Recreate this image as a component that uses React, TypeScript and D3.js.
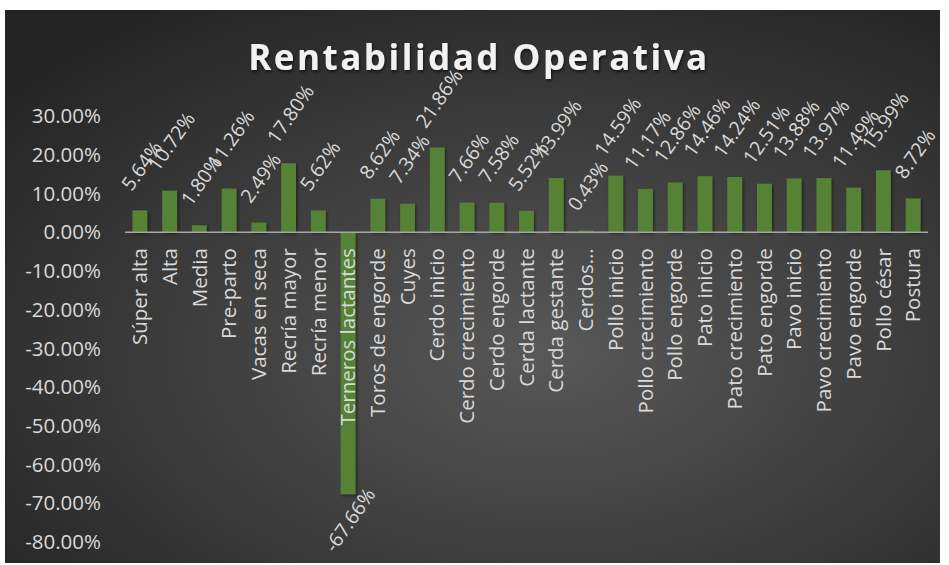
import React from "react";
import * as d3 from "d3";

const categories = [
  "Súper alta", "Alta", "Media", "Pre-parto", "Vacas en seca", "Recría mayor", "Recría menor",
  "Terneros lactantes", "Toros de engorde", "Cuyes", "Cerdo inicio", "Cerdo crecimiento",
  "Cerdo engorde", "Cerda lactante", "Cerda gestante", "Cerdos…", "Pollo inicio",
  "Pollo crecimiento", "Pollo engorde", "Pato inicio", "Pato crecimiento", "Pato engorde",
  "Pavo inicio", "Pavo crecimiento", "Pavo engorde", "Pollo césar", "Postura",
];
const values = [
  5.64, 10.72, 1.8, 11.26, 2.49, 17.8, 5.62, -67.66, 8.62, 7.34, 21.86, 7.66, 7.58, 5.52,
  13.99, 0.43, 14.59, 11.17, 12.86, 14.46, 14.24, 12.51, 13.88, 13.97, 11.49, 15.99, 8.72,
];
const yTicks = [30, 20, 10, 0, -10, -20, -30, -40, -50, -60, -70, -80];

const W = 949;
const H = 565;
const FONT = "'Open Sans', sans-serif";

const charW = (s: string) =>
  s.split("").reduce((a, ch) => a + (ch === "." ? 0.27 : ch === "%" ? 0.84 : ch === "-" ? 0.32 : 0.572), 0);

export default function App() {
  const x = d3.scaleBand<string>().domain(categories).range([125, 928]).paddingInner(0.5).paddingOuter(0.25);
  const y = d3.scaleLinear().domain([-80, 30]).range([542, 116]);
  const bw = x.bandwidth();
  const fmt = (v: number) => v.toFixed(2) + "%";
  const labelFs = 19.5;
  const ang = 55;
  const sa = Math.sin((ang * Math.PI) / 180);
  const ca = Math.cos((ang * Math.PI) / 180);

  return (
    <svg width={W} height={H} style={{ position: "absolute", left: 0, top: 0, background: "#fff" }}>
      <defs>
        <radialGradient id="bg" cx="58%" cy="62%" r="75%" fx="58%" fy="62%">
          <stop offset="0%" stopColor="#585858" />
          <stop offset="100%" stopColor="#242424" />
        </radialGradient>
        <filter id="sh" x="-20%" y="-20%" width="140%" height="140%">
          <feDropShadow dx="1.5" dy="1.5" stdDeviation="1.5" floodColor="#000" floodOpacity="0.45" />
        </filter>
        <filter id="tsh" x="-10%" y="-30%" width="120%" height="160%">
          <feDropShadow dx="1" dy="2" stdDeviation="1.5" floodColor="#000" floodOpacity="0.6" />
        </filter>
      </defs>
      <rect x={5} y={10} width={935} height={553} fill="url(#bg)" />
      <text
        x={479}
        y={70}
        textAnchor="middle"
        fontFamily={FONT}
        fontWeight="bold"
        fontSize={35}
        letterSpacing={2.5}
        fill="#f2f2f2"
        filter="url(#tsh)"
      >
        Rentabilidad Operativa
      </text>
      {yTicks.map((t) => (
        <text
          key={t}
          x={101}
          y={y(t)}
          dy="0.35em"
          textAnchor="end"
          fontFamily={FONT}
          fontSize={20.5}
          fill="#d9d9d9"
        >
          {t.toFixed(2) + "%"}
        </text>
      ))}
      {categories.map((c, i) => {
        const v = values[i];
        return (
          <rect
            key={c}
            x={x(c)!}
            y={y(Math.max(0, v))}
            width={bw}
            height={Math.abs(y(v) - y(0))}
            fill="#548235"
            filter="url(#sh)"
          />
        );
      })}
      <line x1={125} x2={928} y1={y(0)} y2={y(0)} stroke="#a6a6a6" strokeWidth={1.5} />
      {categories.map((c) => (
        <text
          key={c}
          transform={`translate(${x(c)! + bw / 2},${y(0) + 16}) rotate(-90)`}
          dy="0.35em"
          textAnchor="end"
          fontFamily={FONT}
          fontSize={20.5}
          fill="#d9d9d9"
        >
          {c}
        </text>
      ))}
      {categories.map((c, i) => {
        const v = values[i];
        const txt = fmt(v);
        const L = charW(txt) * labelFs;
        const half = (L * sa + labelFs * 0.72 * ca) / 2;
        const off = v >= 0 ? half + 18 : half - 8;
        const cx = x(c)! + bw / 2 + 2;
        const cy = v >= 0 ? y(v) - off : y(v) + off;
        return (
          <text
            key={c}
            transform={`translate(${cx},${cy}) rotate(${-ang})`}
            textAnchor="middle"
            dy="0.35em"
            fontFamily={FONT}
            fontSize={labelFs}
            fill="#d9d9d9"
          >
            {txt}
          </text>
        );
      })}
    </svg>
  );
}
